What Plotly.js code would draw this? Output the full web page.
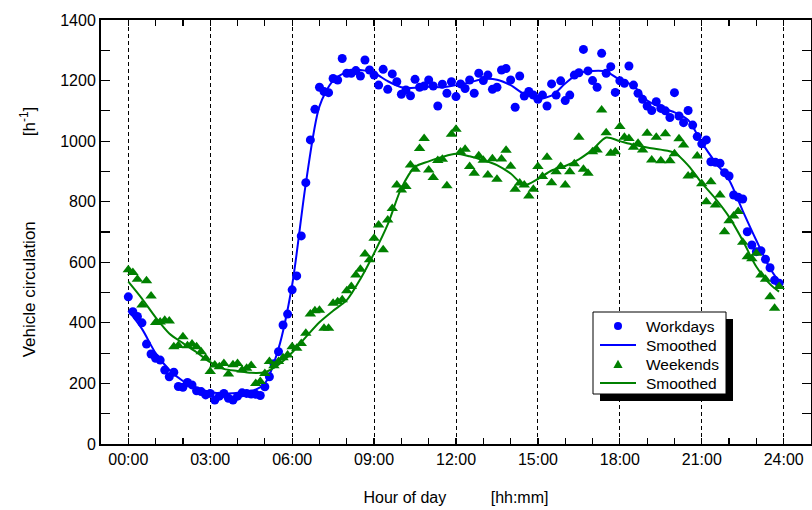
<!DOCTYPE html>
<html>
<head>
<meta charset="utf-8">
<script src="https://cdn.plot.ly/plotly-3.0.1.min.js"></script>
<style>html,body{margin:0;padding:0;background:#fff;}#chart{width:812px;height:510px;}</style>
</head>
<body>
<div id="chart"></div>
<script>
// 10-minute samples starting at 00:00
const sampleStepMinutes = 10;

const workdays = [
  486, 437, 421, 400, 330, 297, 283, 277, 244, 222,
  237, 190, 187, 203, 195, 176, 173, 162, 167, 145,
  158, 167, 151, 145, 158, 169, 167, 165, 164, 160,
  189, 222, 265, 305, 393, 429, 509, 555, 687, 863,
  1004, 1105, 1178, 1164, 1160, 1207, 1202, 1273, 1224, 1224,
  1233, 1215, 1268, 1235, 1218, 1185, 1237, 1171, 1222, 1196,
  1155, 1169, 1150, 1204, 1178, 1182, 1202, 1182, 1116, 1188,
  1158, 1196, 1147, 1189, 1174, 1202, 1158, 1224, 1200, 1218,
  1171, 1178, 1235, 1240, 1202, 1112, 1215, 1149, 1164, 1152,
  1138, 1152, 1116, 1189, 1152, 1199, 1134, 1152, 1218, 1226,
  1303, 1232, 1200, 1178, 1290, 1224, 1246, 1161, 1199, 1191,
  1248, 1185, 1158, 1138, 1116, 1101, 1130, 1108, 1100, 1078,
  1160, 1083, 1061, 1101, 1053, 1015, 991, 1004, 932, 930,
  927, 896, 885, 822, 815, 809, 701, 657, 635, 638,
  610, 582, 541, 531
];

const weekends = [
  575, 566, 544, 459, 539, 489, 401, 403, 409, 406,
  321, 325, 354, 324, 330, 321, 305, 283, 239, 261,
  255, 266, 231, 262, 266, 244, 250, 259, 200, 206,
  233, 272, 258, 272, 285, 294, 321, 316, 332, 366,
  429, 440, 442, 382, 382, 465, 470, 476, 506, 520,
  558, 577, 627, 608, 679, 723, 641, 740, 778, 855,
  839, 850, 921, 907, 976, 1009, 905, 880, 936, 940,
  853, 1023, 1039, 964, 973, 916, 894, 952, 937, 888,
  942, 874, 941, 970, 917, 841, 862, 855, 819, 841,
  916, 883, 947, 863, 899, 916, 855, 899, 925, 1013,
  907, 894, 965, 971, 1103, 1028, 960, 965, 1048, 1013,
  1009, 980, 993, 971, 1026, 938, 1013, 935, 1024, 935,
  958, 1008, 987, 885, 888, 951, 859, 800, 866, 789,
  822, 701, 737, 753, 768, 666, 618, 612, 630, 558,
  544, 486, 448, 520
];

const smoothHours = [
  0, 0.5, 1, 1.5, 2, 2.5, 3, 3.5, 4, 4.5, 5, 5.5, 6, 6.5, 7, 7.5, 8, 8.5,
  9, 9.5, 10, 10.5, 11, 11.5, 12, 12.5, 13, 13.5, 14, 14.5, 15, 15.5, 16, 16.5,
  17, 17.5, 18, 18.5, 19, 19.5, 20, 20.5, 21, 21.5, 22, 22.5, 23, 23.5, 23.83
];

const workdaysSmoothed = [
  440, 380, 300, 245, 208, 185, 172, 167, 168, 174, 200, 315, 525, 860, 1115, 1200, 1228, 1235,
  1225, 1198, 1178, 1176, 1180, 1178, 1185, 1194, 1205, 1203, 1185, 1155, 1142, 1150, 1190, 1225,
  1232, 1230, 1202, 1183, 1134, 1112, 1095, 1070, 995, 930, 872, 770, 672, 580, 535
];

const weekendsSmoothed = [
  536, 480, 418, 365, 333, 303, 270, 248, 241, 235, 237, 262, 302, 353, 402, 440, 475, 545,
  630, 725, 845, 915, 933, 948, 958, 950, 937, 921, 893, 855, 875, 903, 918, 940,
  972, 1012, 1000, 988, 979, 972, 962, 920, 862, 810, 750, 672, 585, 528, 503
];

const xTickLabels = {
  '0': '00:00', '3': '03:00', '6': '06:00', '9': '09:00', '12': '12:00',
  '15': '15:00', '18': '18:00', '21': '21:00', '24': '24:00'
};

const seriesNames = ['Workdays', 'Smoothed', 'Weekends', 'Smoothed'];

const sampleHours = workdays.map((_, i) => i * sampleStepMinutes / 60);

const BLUE = '#0000ff';
const GREEN = '#008000';

const traces = [
  {x: sampleHours, y: workdays, name: seriesNames[0], type: 'scatter', mode: 'markers',
   marker: {symbol: 'circle', size: 9, color: BLUE}},
  {x: smoothHours, y: workdaysSmoothed, name: seriesNames[1], type: 'scatter', mode: 'lines',
   line: {color: BLUE, width: 2, shape: 'spline', smoothing: 0.8}},
  {x: sampleHours, y: weekends, name: seriesNames[2], type: 'scatter', mode: 'markers',
   marker: {symbol: 'triangle-up', size: 10, color: GREEN}},
  {x: smoothHours, y: weekendsSmoothed, name: seriesNames[3], type: 'scatter', mode: 'lines',
   line: {color: GREEN, width: 2, shape: 'spline', smoothing: 0.8}}
];

const NB = '\u00a0';
const FONT = '"Liberation Sans", Arial, Helvetica, sans-serif';

// plot area in pixels (for placing the legend box)
const PL = 101, PR = 811, PT = 20, PB = 444;
const px = v => (v - PL) / (PR - PL);
const py = v => (PB - v) / (PB - PT);

// legend box with drop shadow
const LEG = {x0: 593, x1: 726, y0: 312, y1: 394, shadow: 7, symX: 618, lineX0: 600, lineX1: 636, textX: 644,
             rows: [326, 345, 364, 383]};

const shapes = [
  {type: 'rect', xref: 'paper', yref: 'paper',
   x0: px(LEG.x0 + LEG.shadow), x1: px(LEG.x1 + LEG.shadow), y0: py(LEG.y1 + LEG.shadow), y1: py(LEG.y0 + LEG.shadow),
   fillcolor: '#000', line: {width: 0}, layer: 'above'},
  {type: 'rect', xref: 'paper', yref: 'paper',
   x0: px(LEG.x0), x1: px(LEG.x1), y0: py(LEG.y1), y1: py(LEG.y0),
   fillcolor: '#fff', line: {color: '#000', width: 1}, layer: 'above'},
  {type: 'circle', xref: 'paper', yref: 'paper', xsizemode: 'pixel', ysizemode: 'pixel',
   xanchor: px(LEG.symX), yanchor: py(LEG.rows[0]), x0: -4, x1: 4, y0: -4, y1: 4,
   fillcolor: BLUE, line: {width: 0}, layer: 'above'},
  {type: 'line', xref: 'paper', yref: 'paper',
   x0: px(LEG.lineX0), x1: px(LEG.lineX1), y0: py(LEG.rows[1]), y1: py(LEG.rows[1]),
   line: {color: BLUE, width: 2}, layer: 'above'},
  {type: 'path', xref: 'paper', yref: 'paper', xsizemode: 'pixel', ysizemode: 'pixel',
   xanchor: px(LEG.symX), yanchor: py(LEG.rows[2]), path: 'M-4.6,-4L4.6,-4L0,4.2Z',
   fillcolor: GREEN, line: {width: 0}, layer: 'above'},
  {type: 'line', xref: 'paper', yref: 'paper',
   x0: px(LEG.lineX0), x1: px(LEG.lineX1), y0: py(LEG.rows[3]), y1: py(LEG.rows[3]),
   line: {color: GREEN, width: 2}, layer: 'above'}
];

const annotations = seriesNames.map((name, i) => ({
  text: name, xref: 'paper', yref: 'paper', x: px(LEG.textX), y: py(LEG.rows[i]),
  xanchor: 'left', yanchor: 'middle', showarrow: false,
  font: {family: FONT, size: 15.5, color: '#000'}
}));

const layout = {
  width: 812, height: 510,
  margin: {l: 101, r: 1, t: 20, b: 66, pad: 0},
  paper_bgcolor: '#fff', plot_bgcolor: '#fff',
  font: {family: FONT, size: 16, color: '#000'},
  showlegend: false,
  xaxis: {
    range: [-1, 25], tickmode: 'linear', tick0: 0, dtick: 3,
    labelalias: xTickLabels,
    ticks: 'inside', ticklen: 6, tickwidth: 1.2, tickcolor: '#000',
    showline: true, linewidth: 2, linecolor: '#000', mirror: 'allticks',
    showgrid: true, gridcolor: '#000', gridwidth: 1, griddash: '4px,3px',
    zeroline: false,
    minor: {tick0: 0, dtick: 1, ticks: 'inside', ticklen: 6, tickwidth: 1.2, tickcolor: '#000', showgrid: false},
    tickfont: {size: 16, color: '#000'},
    title: {text: 'Hour of day' + NB.repeat(10) + '[hh:mm]', font: {size: 16, color: '#000'}, standoff: 25}
  },
  yaxis: {
    range: [0, 1400], tickmode: 'linear', tick0: 0, dtick: 200,
    ticks: 'inside', ticklen: 9, tickwidth: 1.2, tickcolor: '#000',
    showline: true, linewidth: 2, linecolor: '#000', mirror: 'allticks',
    showgrid: false, zeroline: false,
    minor: {tick0: 0, dtick: 100, ticks: 'inside', ticklen: 9, tickwidth: 1.2, tickcolor: '#000', showgrid: false},
    tickfont: {size: 16, color: '#000'},
    title: {text: 'Vehicle circulation' + NB.repeat(18) + '[h<sup>-1</sup>]', font: {size: 17, color: '#000'}, standoff: 20}
  },
  shapes: shapes,
  annotations: annotations
};

Plotly.newPlot('chart', traces, layout, {displayModeBar: false, staticPlot: true});
</script>
</body>
</html>
